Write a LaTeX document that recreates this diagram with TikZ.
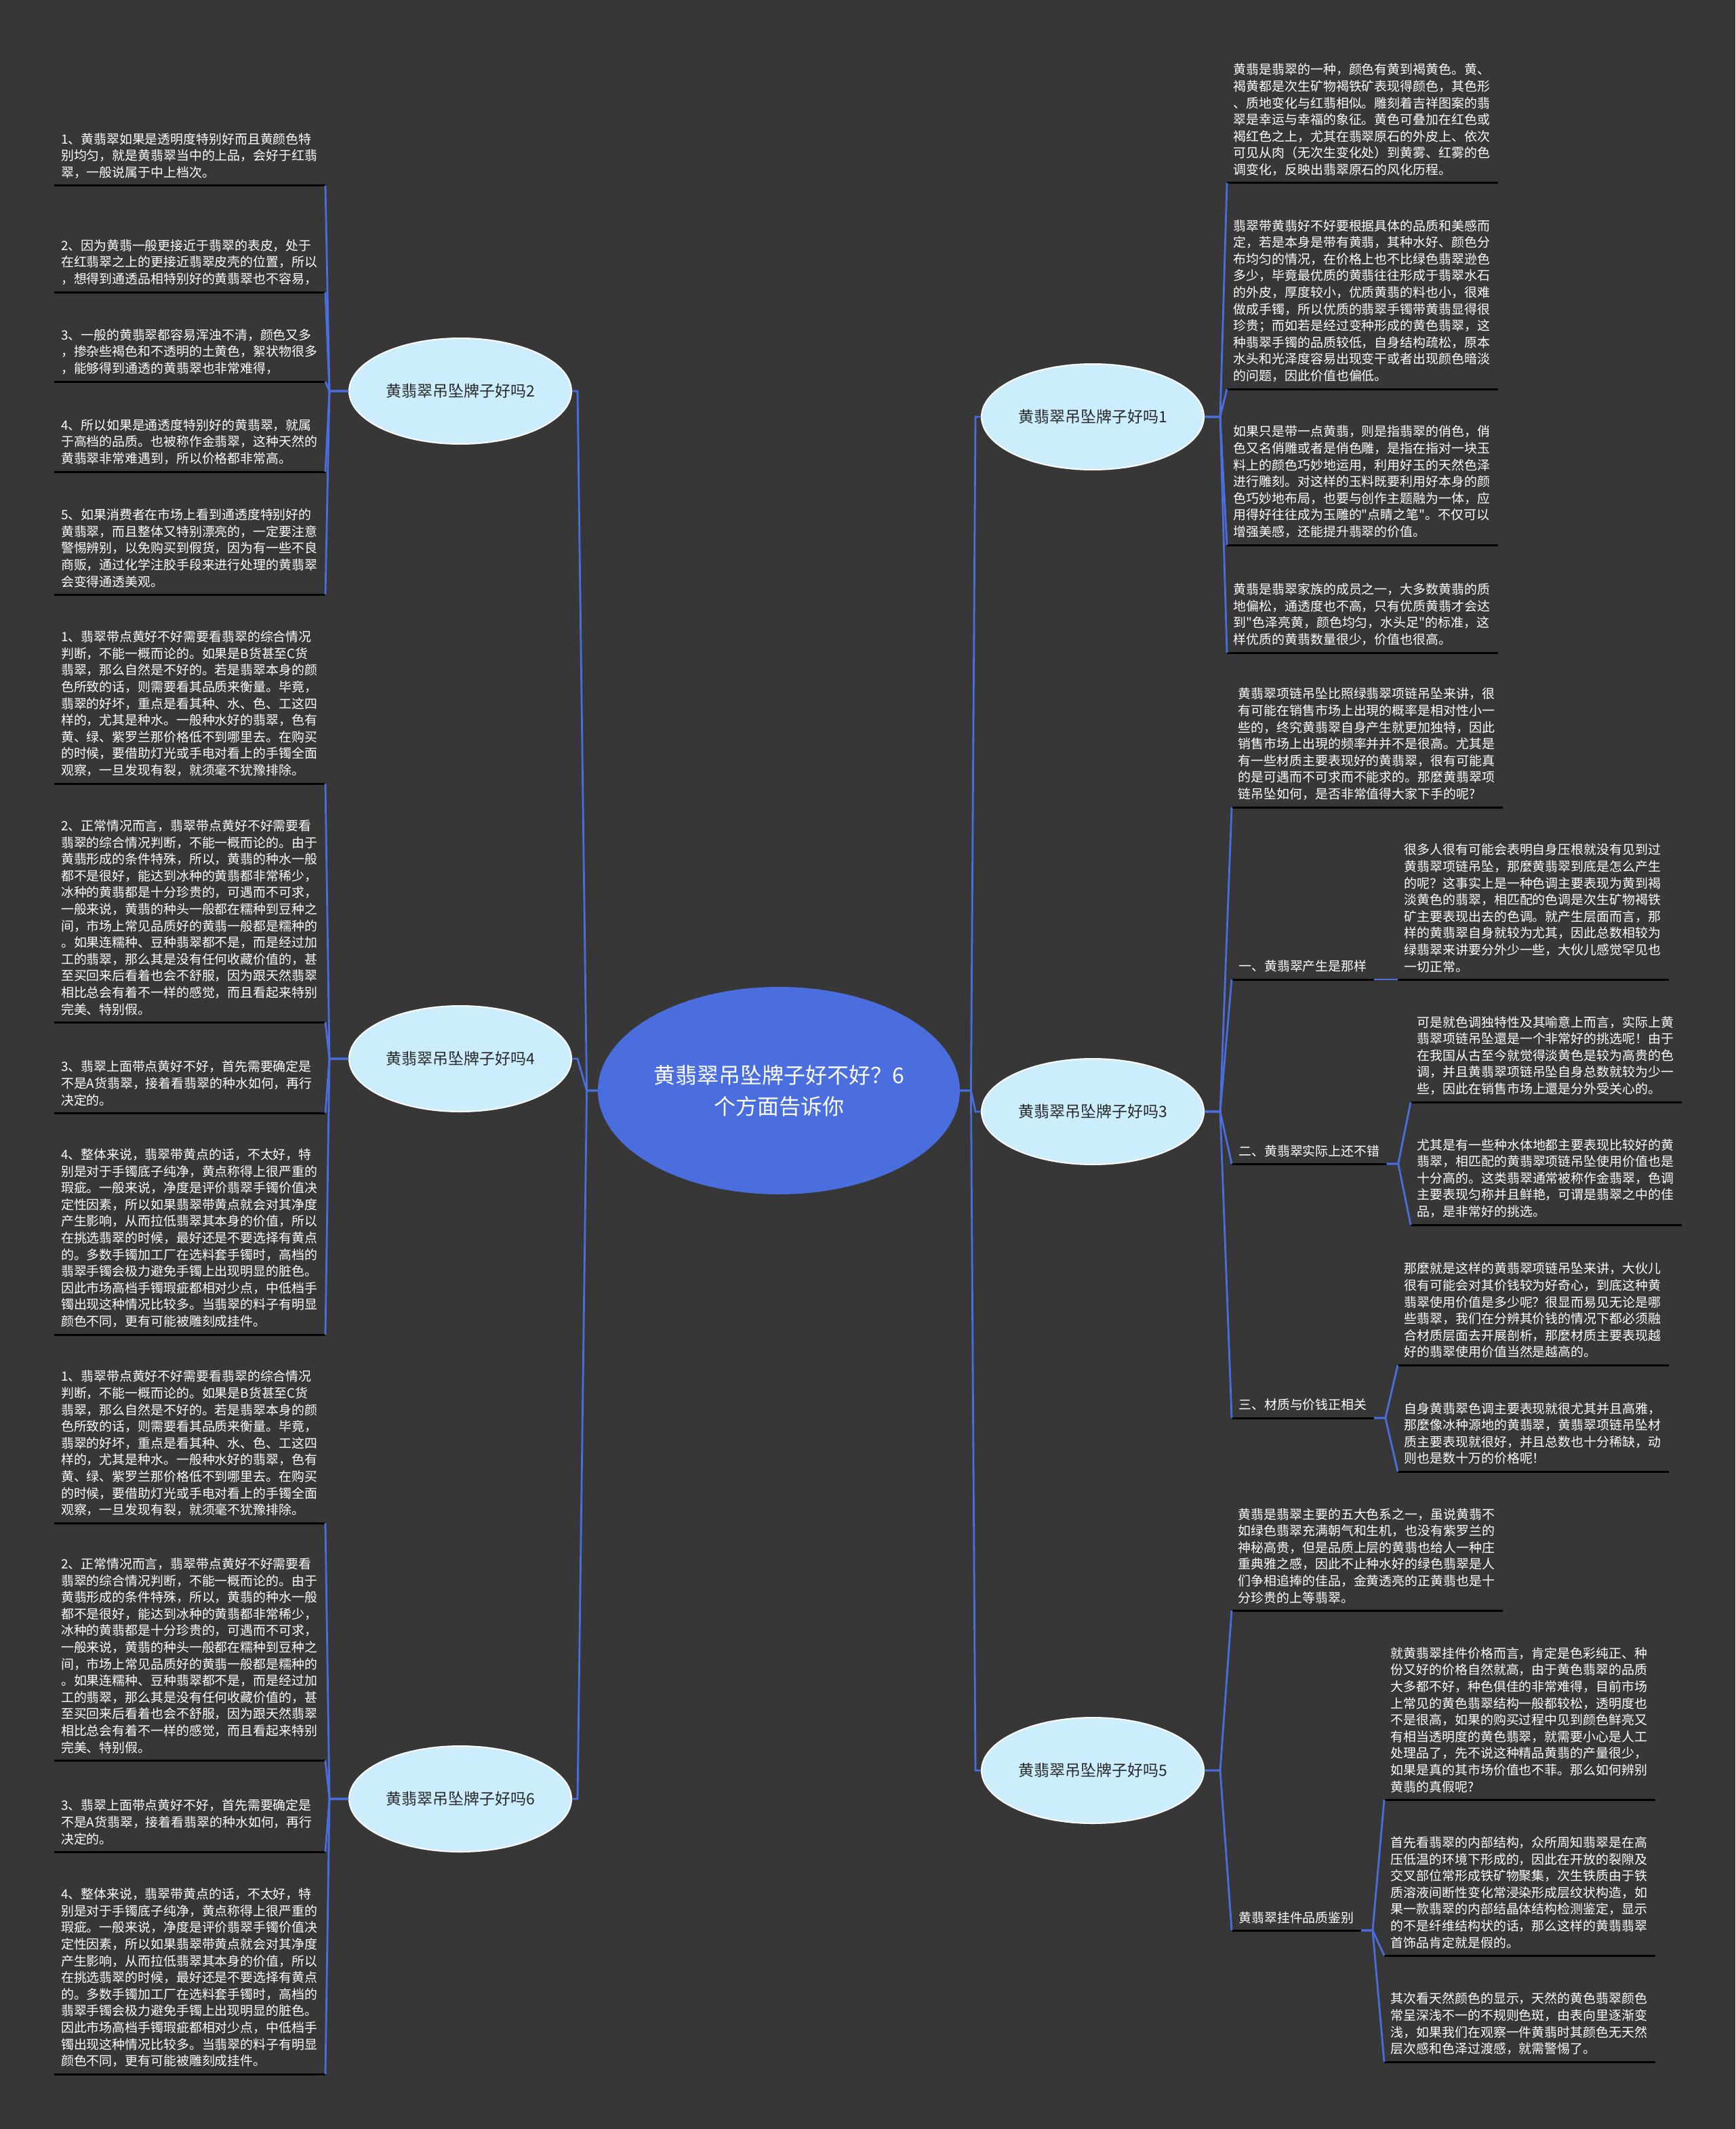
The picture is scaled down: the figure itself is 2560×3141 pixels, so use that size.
\documentclass[tikz,border=0pt]{standalone}
\usepackage{fontspec}
\setmainfont{Noto Sans CJK SC}[Ligatures=TeXOff]
\usetikzlibrary{shapes.geometric}

\definecolor{bg}{RGB}{55,55,55}
\definecolor{linkblue}{RGB}{74,110,222}
\definecolor{topicfill}{RGB}{204,238,252}
\definecolor{topictext}{RGB}{40,40,40}

\newcommand\leaffont{\fontsize{9.45}{12.3}\selectfont}

\tikzset{
  root/.style={ellipse, fill=linkblue, text=white, align=center,
    minimum width=267pt, minimum height=153pt, inner sep=0pt,
    font=\fontsize{16}{23}\selectfont},
  topic/.style={ellipse, fill=topicfill, draw=white, line width=1pt,
    text=topictext, minimum width=164pt, minimum height=78pt, inner sep=0pt,
    font=\fontsize{11.5}{14}\selectfont},
  leaf/.style={text=white, font=\leaffont, align=left, text width=190pt,
    inner xsep=4.75pt, inner ysep=5pt},
  sub/.style={text=white, font=\leaffont, inner xsep=5pt, inner ysep=5pt},
  link/.style={draw=linkblue, line width=1.4pt},
  uline/.style={draw=black, line width=1.5pt}
}

\begin{document}
\begin{tikzpicture}[x=0.5pt,y=-0.5pt]
    \fill[bg] (0,0) rectangle (2560,3141);
    \useasboundingbox (0,0) rectangle (2560,3141);

    % root and topics
    \node[root] (c) at (1149,1609) {黄翡翠吊坠牌子好不好？6\\个方面告诉你};
    \node[topic] (n2) at (679,577) {黄翡翠吊坠牌子好吗2};
    \node[topic] (n4) at (679,1562) {黄翡翠吊坠牌子好吗4};
    \node[topic] (n6) at (679,2654) {黄翡翠吊坠牌子好吗6};
    \node[topic] (n1) at (1612,615) {黄翡翠吊坠牌子好吗1};
    \node[topic] (n3) at (1612,1640) {黄翡翠吊坠牌子好吗3};
    \node[topic] (n5) at (1612,2612) {黄翡翠吊坠牌子好吗5};

    % topic 2
    \node[leaf, anchor=south east] (l2a) at (480,274) {1、黄翡翠如果是透明度特别好而且黄颜色特\\别均匀，就是黄翡翠当中的上品，会好于红翡\\翠，一般说属于中上档次。};
    \node[leaf, anchor=south east] (l2b) at (480,431) {2、因为黄翡一般更接近于翡翠的表皮，处于\\在红翡翠之上的更接近翡翠皮壳的位置，所以\\，想得到通透品相特别好的黄翡翠也不容易，};
    \node[leaf, anchor=south east] (l2c) at (480,563) {3、一般的黄翡翠都容易浑浊不清，颜色又多\\，掺杂些褐色和不透明的土黄色，絮状物很多\\，能够得到通透的黄翡翠也非常难得，};
    \node[leaf, anchor=south east] (l2d) at (480,696) {4、所以如果是通透度特别好的黄翡翠，就属\\于高档的品质。也被称作金翡翠，这种天然的\\黄翡翠非常难遇到，所以价格都非常高。};
    \node[leaf, anchor=south east] (l2e) at (480,877) {5、如果消费者在市场上看到通透度特别好的\\黄翡翠，而且整体又特别漂亮的，一定要注意\\警惕辨别，以免购买到假货，因为有一些不良\\商贩，通过化学注胶手段来进行处理的黄翡翠\\会变得通透美观。};

    % topic 4
    \node[leaf, anchor=south east] (l4a) at (480,1156) {1、翡翠带点黄好不好需要看翡翠的综合情况\\判断，不能一概而论的。如果是B货甚至C货\\翡翠，那么自然是不好的。若是翡翠本身的颜\\色所致的话，则需要看其品质来衡量。毕竟，\\翡翠的好坏，重点是看其种、水、色、工这四\\样的，尤其是种水。一般种水好的翡翠，色有\\黄、绿、紫罗兰那价格低不到哪里去。在购买\\的时候，要借助灯光或手电对看上的手镯全面\\观察，一旦发现有裂，就须毫不犹豫排除。};
    \node[leaf, anchor=south east] (l4b) at (480,1508) {2、正常情况而言，翡翠带点黄好不好需要看\\翡翠的综合情况判断，不能一概而论的。由于\\黄翡形成的条件特殊，所以，黄翡的种水一般\\都不是很好，能达到冰种的黄翡都非常稀少，\\冰种的黄翡都是十分珍贵的，可遇而不可求，\\一般来说，黄翡的种头一般都在糯种到豆种之\\间，市场上常见品质好的黄翡一般都是糯种的\\。如果连糯种、豆种翡翠都不是，而是经过加\\工的翡翠，那么其是没有任何收藏价值的，甚\\至买回来后看着也会不舒服，因为跟天然翡翠\\相比总会有着不一样的感觉，而且看起来特别\\完美、特别假。};
    \node[leaf, anchor=south east] (l4c) at (480,1642) {3、翡翠上面带点黄好不好，首先需要确定是\\不是A货翡翠，接着看翡翠的种水如何，再行\\决定的。};
    \node[leaf, anchor=south east] (l4d) at (480,1969) {4、整体来说，翡翠带黄点的话，不太好，特\\别是对于手镯底子纯净，黄点称得上很严重的\\瑕疵。一般来说，净度是评价翡翠手镯价值决\\定性因素，所以如果翡翠带黄点就会对其净度\\产生影响，从而拉低翡翠其本身的价值，所以\\在挑选翡翠的时候，最好还是不要选择有黄点\\的。多数手镯加工厂在选料套手镯时，高档的\\翡翠手镯会极力避免手镯上出现明显的脏色。\\因此市场高档手镯瑕疵都相对少点，中低档手\\镯出现这种情况比较多。当翡翠的料子有明显\\颜色不同，更有可能被雕刻成挂件。};

    % topic 6
    \node[leaf, anchor=south east] (l6a) at (480,2247) {1、翡翠带点黄好不好需要看翡翠的综合情况\\判断，不能一概而论的。如果是B货甚至C货\\翡翠，那么自然是不好的。若是翡翠本身的颜\\色所致的话，则需要看其品质来衡量。毕竟，\\翡翠的好坏，重点是看其种、水、色、工这四\\样的，尤其是种水。一般种水好的翡翠，色有\\黄、绿、紫罗兰那价格低不到哪里去。在购买\\的时候，要借助灯光或手电对看上的手镯全面\\观察，一旦发现有裂，就须毫不犹豫排除。};
    \node[leaf, anchor=south east] (l6b) at (480,2597) {2、正常情况而言，翡翠带点黄好不好需要看\\翡翠的综合情况判断，不能一概而论的。由于\\黄翡形成的条件特殊，所以，黄翡的种水一般\\都不是很好，能达到冰种的黄翡都非常稀少，\\冰种的黄翡都是十分珍贵的，可遇而不可求，\\一般来说，黄翡的种头一般都在糯种到豆种之\\间，市场上常见品质好的黄翡一般都是糯种的\\。如果连糯种、豆种翡翠都不是，而是经过加\\工的翡翠，那么其是没有任何收藏价值的，甚\\至买回来后看着也会不舒服，因为跟天然翡翠\\相比总会有着不一样的感觉，而且看起来特别\\完美、特别假。};
    \node[leaf, anchor=south east] (l6c) at (480,2732) {3、翡翠上面带点黄好不好，首先需要确定是\\不是A货翡翠，接着看翡翠的种水如何，再行\\决定的。};
    \node[leaf, anchor=south east] (l6d) at (480,3060) {4、整体来说，翡翠带黄点的话，不太好，特\\别是对于手镯底子纯净，黄点称得上很严重的\\瑕疵。一般来说，净度是评价翡翠手镯价值决\\定性因素，所以如果翡翠带黄点就会对其净度\\产生影响，从而拉低翡翠其本身的价值，所以\\在挑选翡翠的时候，最好还是不要选择有黄点\\的。多数手镯加工厂在选料套手镯时，高档的\\翡翠手镯会极力避免手镯上出现明显的脏色。\\因此市场高档手镯瑕疵都相对少点，中低档手\\镯出现这种情况比较多。当翡翠的料子有明显\\颜色不同，更有可能被雕刻成挂件。};

    % topic 1
    \node[leaf, anchor=south west] (r1a) at (1810,270) {黄翡是翡翠的一种，颜色有黄到褐黄色。黄、\\褐黄都是次生矿物褐铁矿表现得颜色，其色形\\、质地变化与红翡相似。雕刻着吉祥图案的翡\\翠是幸运与幸福的象征。黄色可叠加在红色或\\褐红色之上，尤其在翡翠原石的外皮上、依次\\可见从肉（无次生变化处）到黄雾、红雾的色\\调变化，反映出翡翠原石的风化历程。};
    \node[leaf, anchor=south west] (r1b) at (1810,574) {翡翠带黄翡好不好要根据具体的品质和美感而\\定，若是本身是带有黄翡，其种水好、颜色分\\布均匀的情况，在价格上也不比绿色翡翠逊色\\多少，毕竟最优质的黄翡往往形成于翡翠水石\\的外皮，厚度较小，优质黄翡的料也小，很难\\做成手镯，所以优质的翡翠手镯带黄翡显得很\\珍贵；而如若是经过变种形成的黄色翡翠，这\\种翡翠手镯的品质较低，自身结构疏松，原本\\水头和光泽度容易出现变干或者出现颜色暗淡\\的问题，因此价值也偏低。};
    \node[leaf, anchor=south west] (r1c) at (1810,804) {如果只是带一点黄翡，则是指翡翠的俏色，俏\\色又名俏雕或者是俏色雕，是指在指对一块玉\\料上的颜色巧妙地运用，利用好玉的天然色泽\\进行雕刻。对这样的玉料既要利用好本身的颜\\色巧妙地布局，也要与创作主题融为一体，应\\用得好往往成为玉雕的"点睛之笔"。不仅可以\\增强美感，还能提升翡翠的价值。};
    \node[leaf, anchor=south west] (r1d) at (1810,963) {黄翡是翡翠家族的成员之一，大多数黄翡的质\\地偏松，通透度也不高，只有优质黄翡才会达\\到"色泽亮黄，颜色均匀，水头足"的标准，这\\样优质的黄翡数量很少，价值也很高。};

    % topic 3
    \node[leaf, anchor=south west] (r3a) at (1817,1191) {黄翡翠项链吊坠比照绿翡翠项链吊坠来讲，很\\有可能在销售市场上出現的概率是相对性小一\\些的，终究黄翡翠自身产生就更加独特，因此\\销售市场上出現的频率并并不是很高。尤其是\\有一些材质主要表现好的黄翡翠，很有可能真\\的是可遇而不可求而不能求的。那麼黄翡翠项\\链吊坠如何，是否非常值得大家下手的呢?};
    \node[sub, anchor=south west] (s31) at (1817,1445) {一、黄翡翠产生是那样};
    \node[leaf, anchor=south west] (r31) at (2062,1445) {很多人很有可能会表明自身压根就没有见到过\\黄翡翠项链吊坠，那麼黄翡翠到底是怎么产生\\的呢？这事实上是一种色调主要表现为黄到褐\\淡黄色的翡翠，相匹配的色调是次生矿物褐铁\\矿主要表现出去的色调。就产生层面而言，那\\样的黄翡翠自身就较为尤其，因此总数相较为\\绿翡翠来讲要分外少一些，大伙儿感觉罕见也\\一切正常。};
    \node[sub, anchor=south west] (s32) at (1817,1717) {二、黄翡翠实际上还不错};
    \node[leaf, anchor=south west] (r32a) at (2081,1626) {可是就色调独特性及其喻意上而言，实际上黄\\翡翠项链吊坠還是一个非常好的挑选呢！由于\\在我国从古至今就觉得淡黄色是较为高贵的色\\调，并且黄翡翠项链吊坠自身总数就较为少一\\些，因此在销售市场上還是分外受关心的。};
    \node[leaf, anchor=south west] (r32b) at (2081,1807) {尤其是有一些种水体地都主要表现比较好的黄\\翡翠，相匹配的黄翡翠项链吊坠使用价值也是\\十分高的。这类翡翠通常被称作金翡翠，色调\\主要表现匀称并且鲜艳，可谓是翡翠之中的佳\\品，是非常好的挑选。};
    \node[sub, anchor=south west] (s33) at (1817,2092) {三、材质与价钱正相关};
    \node[leaf, anchor=south west] (r33a) at (2062,2014) {那麼就是这样的黄翡翠项链吊坠来讲，大伙儿\\很有可能会对其价钱较为好奇心，到底这种黄\\翡翠使用价值是多少呢？很显而易见无论是哪\\些翡翠，我们在分辨其价钱的情况下都必须融\\合材质层面去开展剖析，那麼材质主要表现越\\好的翡翠使用价值当然是越高的。};
    \node[leaf, anchor=south west] (r33b) at (2062,2171) {自身黄翡翠色调主要表现就很尤其并且高雅，\\那麼像冰种源地的黄翡翠，黄翡翠项链吊坠材\\质主要表现就很好，并且总数也十分稀缺，动\\则也是数十万的价格呢！};

    % topic 5
    \node[leaf, anchor=south west] (r5a) at (1817,2376) {黄翡是翡翠主要的五大色系之一，虽说黄翡不\\如绿色翡翠充满朝气和生机，也没有紫罗兰的\\神秘高贵，但是品质上层的黄翡也给人一种庄\\重典雅之感，因此不止种水好的绿色翡翠是人\\们争相追捧的佳品，金黄透亮的正黄翡也是十\\分珍贵的上等翡翠。};
    \node[sub, anchor=south west] (s51) at (1817,2848) {黄翡翠挂件品质鉴别};
    \node[leaf, anchor=south west] (r51a) at (2042,2655) {就黄翡翠挂件价格而言，肯定是色彩纯正、种\\份又好的价格自然就高，由于黄色翡翠的品质\\大多都不好，种色俱佳的非常难得，目前市场\\上常见的黄色翡翠结构一般都较松，透明度也\\不是很高，如果的购买过程中见到颜色鲜亮又\\有相当透明度的黄色翡翠，就需要小心是人工\\处理品了，先不说这种精品黄翡的产量很少，\\如果是真的其市场价值也不菲。那么如何辨别\\黄翡的真假呢?};
    \node[leaf, anchor=south west] (r51b) at (2042,2885) {首先看翡翠的内部结构，众所周知翡翠是在高\\压低温的环境下形成的，因此在开放的裂隙及\\交叉部位常形成铁矿物聚集，次生铁质由于铁\\质溶液间断性变化常浸染形成层纹状构造，如\\果一款翡翠的内部结晶体结构检测鉴定，显示\\的不是纤维结构状的话，那么这样的黄翡翡翠\\首饰品肯定就是假的。};
    \node[leaf, anchor=south west] (r51c) at (2042,3042) {其次看天然颜色的显示，天然的黄色翡翠颜色\\常呈深浅不一的不规则色斑，由表向里逐渐变\\浅，如果我们在观察一件黄翡时其颜色无天然\\层次感和色泽过渡感，就需警惕了。};

    % underlines
    \foreach \n in {l2a,l2b,l2c,l2d,l2e,l4a,l4b,l4c,l4d,l6a,l6b,l6c,l6d,
                    r1a,r1b,r1c,r1d,r3a,s31,r31,s32,r32a,r32b,s33,r33a,r33b,
                    r5a,s51,r51a,r51b,r51c}
        \draw[uline] (\n.south west) -- (\n.south east);

    % root to topics
    \foreach \t in {n2,n4,n6}
        \draw[link] (c.west) -- ++(-16,0) -- ([xshift=4pt]\t.east) -- (\t.east);
    \foreach \t in {n1,n3,n5}
        \draw[link] (c.east) -- ++(16,0) -- ([xshift=-4pt]\t.west) -- (\t.west);

    % topics to leaves
    \foreach \l in {l2a,l2b,l2c,l2d,l2e}
        \draw[link] (n2.west) -- ++(-28,0) -- (\l.south east);
    \foreach \l in {l4a,l4b,l4c,l4d}
        \draw[link] (n4.west) -- ++(-28,0) -- (\l.south east);
    \foreach \l in {l6a,l6b,l6c,l6d}
        \draw[link] (n6.west) -- ++(-28,0) -- (\l.south east);
    \foreach \l in {r1a,r1b,r1c,r1d}
        \draw[link] (n1.east) -- ++(23,0) -- (\l.south west);
    \foreach \l in {r3a,s31,s32,s33}
        \draw[link] (n3.east) -- ++(23,0) -- (\l.south west);
    \foreach \l in {r5a,s51}
        \draw[link] (n5.east) -- ++(23,0) -- (\l.south west);

    % sub-topics to leaves
    \draw[link] (s31.south east) -- (r31.south west);
    \foreach \l in {r32a,r32b}
        \draw[link] (s32.south east) -- ++(17,0) -- (\l.south west);
    \foreach \l in {r33a,r33b}
        \draw[link] (s33.south east) -- ++(17,0) -- (\l.south west);
    \foreach \l in {r51a,r51b,r51c}
        \draw[link] (s51.south east) -- ++(17,0) -- (\l.south west);
\end{tikzpicture}
\end{document}
